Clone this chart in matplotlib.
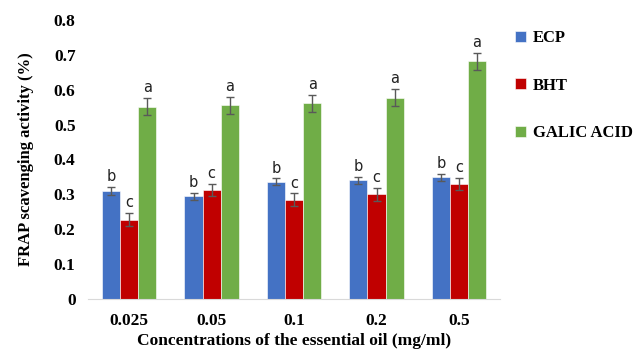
import numpy as np
import matplotlib.pyplot as plt

concs = ['0.025', '0.05', '0.1', '0.2', '0.5']
ecp = [0.31, 0.295, 0.336, 0.341, 0.349]
bht = [0.228, 0.312, 0.285, 0.300, 0.330]
galic = [0.551, 0.555, 0.561, 0.577, 0.681]
ecp_err = [0.011, 0.010, 0.010, 0.010, 0.010]
bht_err = [0.018, 0.018, 0.018, 0.018, 0.018]
galic_err = [0.025, 0.025, 0.024, 0.025, 0.025]
letters = ['b', 'c', 'a']

fig = plt.figure(figsize=(6.38, 3.54), dpi=100)
ax = fig.add_axes([0.138, 0.155, 0.646, 0.789])

x = np.arange(len(concs))
w = 0.22
series = [(ecp, ecp_err, '#4472C4', 'ECP'),
          (bht, bht_err, '#C00000', 'BHT'),
          (galic, galic_err, '#70AD47', 'GALIC ACID')]
for i, (vals, errs, col, lab) in enumerate(series):
    pos = x + (i - 1) * w
    ax.bar(pos, vals, w, color=col, label=lab, edgecolor='white', linewidth=0.4,
           yerr=errs, error_kw=dict(ecolor='#595959', elinewidth=1, capsize=3, capthick=1))
    for p, v, e in zip(pos, vals, errs):
        ax.text(p, v + e + 0.008, letters[i], ha='center', va='bottom',
                fontsize=10.5, family='DejaVu Sans', color='#222222')

ax.set_xlim(-0.5, 4.5)
ax.set_ylim(0, 0.8)
ax.set_yticks(np.arange(0, 0.81, 0.1))
ax.set_yticklabels(['0', '0.1', '0.2', '0.3', '0.4', '0.5', '0.6', '0.7', '0.8'])
ax.set_xticks(x)
ax.set_xticklabels(concs)
for lbl in ax.get_xticklabels() + ax.get_yticklabels():
    lbl.set_family('Liberation Serif')
    lbl.set_fontweight('bold')
    lbl.set_fontsize(12.5)
ax.tick_params(axis='x', length=0, pad=10)
ax.tick_params(axis='y', length=0, pad=9)
for s in ['top', 'right', 'left']:
    ax.spines[s].set_visible(False)
ax.spines['bottom'].set_color('#D9D9D9')

ax.set_xlabel('Concentrations of the essential oil (mg/ml)', family='Liberation Serif',
              fontweight='bold', fontsize=12.5, labelpad=3)
ax.set_ylabel('FRAP scavenging activity (%)', family='Liberation Serif',
              fontweight='bold', fontsize=12, labelpad=14)

leg = fig.legend(loc='upper left', bbox_to_anchor=(0.797, 0.934), frameon=False,
                 prop=dict(family='Liberation Serif', weight='bold', size=12),
                 handlelength=0.65, handleheight=0.65, handletextpad=0.4,
                 labelspacing=1.9, borderaxespad=0)

fig.savefig('out.png', dpi=100)
